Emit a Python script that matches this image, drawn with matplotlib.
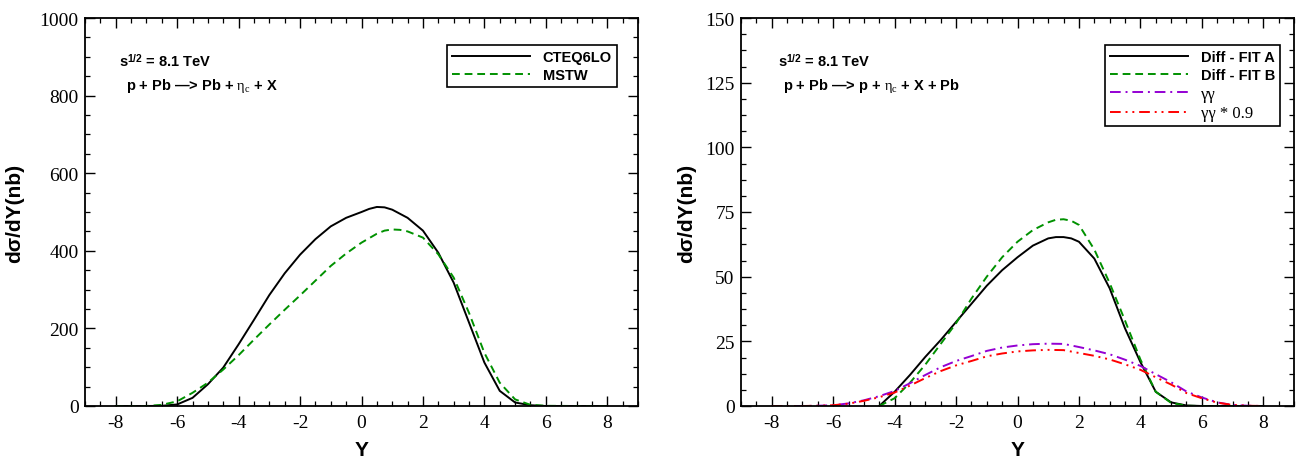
import matplotlib
matplotlib.use("Agg")
import matplotlib.pyplot as plt
from matplotlib.ticker import MultipleLocator

plt.rcParams['mathtext.fontset'] = 'custom'
plt.rcParams['mathtext.rm'] = 'Liberation Sans:bold'
plt.rcParams['mathtext.bf'] = 'Liberation Sans:bold'
plt.rcParams['mathtext.it'] = 'Liberation Serif'
plt.rcParams['axes.unicode_minus'] = False

# ---------------- data: left panel ----------------
y_cteq = [-8, -7, -6.5, -6, -5.5, -5, -4.5, -4, -3.5, -3, -2.5, -2, -1.5, -1, -0.5,
          0, 0.25, 0.5, 0.75, 1, 1.5, 2, 2.5, 3, 3.5, 4, 4.5, 5, 5.5, 6, 7, 8]
v_cteq = [0, 0, 0.5, 4, 21, 56, 99, 159, 222, 286, 342, 390, 430, 463, 485,
          500, 508, 513, 512, 506, 485, 452, 395, 318, 215, 112, 39, 9, 2, 0, 0, 0]

y_mstw = [-8, -7, -6.5, -6, -5.5, -5, -4.5, -4, -3.5, -3, -2.5, -2, -1.5, -1, -0.5,
          0, 0.5, 0.75, 1, 1.25, 1.5, 2, 2.5, 3, 3.5, 4, 4.5, 5, 5.5, 6, 7, 8]
v_mstw = [0, 0, 3, 12, 34, 60, 94, 131, 171, 210, 248, 285, 323, 361, 393,
          421, 444, 452, 455, 454, 450, 434, 391, 331, 240, 137, 60, 17, 3, 0.5, 0, 0]

# ---------------- data: right panel ----------------
y_fit = [-4.5, -4, -3.5, -3, -2.5, -2, -1.5, -1, -0.5, 0, 0.5, 1, 1.25, 1.5, 1.75, 2, 2.5,
         3, 3.5, 4, 4.5, 5, 5.5, 6, 7, 8]
v_fitA = [0, 5.5, 12, 19, 25.5, 32.5, 39.5, 46.5, 52.5, 57.5, 62, 64.8, 65.3, 65.3, 64.8, 63.5, 57,
          45.5, 30, 17, 5.5, 1.4, 0.2, 0, 0, 0]
v_fitB = [0, 3, 9, 16, 24, 32, 41.5, 50, 57.5, 63.5, 68, 71, 72.0, 72.2, 71.6, 70, 60.5,
          47.5, 33, 18, 5.5, 1.2, 0.1, 0, 0, 0]

y_gg = [-8, -7, -6.5, -6, -5.5, -5, -4.5, -4, -3.5, -3, -2.5, -2, -1.5, -1, -0.5,
        0, 0.5, 1, 1.5, 2, 2.5, 3, 3.5, 4, 4.5, 5, 5.5, 6, 6.5, 7, 7.5, 8]
v_gg = [0, 0, 0.1, 0.3, 1.0, 2.2, 3.8, 5.8, 8.8, 12, 15, 17.4, 19.3, 21.3, 22.6,
        23.4, 23.9, 24.1, 24.0, 22.8, 21.5, 20.0, 17.9, 15.5, 12.3, 9.2, 5.6, 3.3, 1.4, 0.4, 0.1, 0]
v_gg09 = [0, 0, 0.1, 0.3, 0.9, 2.0, 3.4, 5.2, 7.9, 10.8, 13.5, 15.7, 17.4, 19.2, 20.3,
          21.1, 21.5, 21.7, 21.6, 20.5, 19.4, 18.0, 16.1, 14.0, 11.1, 8.3, 5.0, 3.0, 1.3, 0.4, 0.1, 0]

x_ticks = [-8, -6, -4, -2, 0, 2, 4, 6, 8]
left_yticks = [0, 200, 400, 600, 800, 1000]
right_yticks = [0, 25, 50, 75, 100, 125, 150]

GREEN = '#009100'
PURPLE = '#9400d3'
RED = '#ff0000'
LW = 1.4
SANS = 'Liberation Sans'
SERIF = 'Liberation Serif'

fig = plt.figure(figsize=(13.08, 4.6), dpi=100)
axL = fig.add_axes([85/1308, 53/460, 553/1308, 388/460])
axR = fig.add_axes([741/1308, 53/460, 553/1308, 388/460])


def style(ax, yticks, ymax, yminor, ylabelpad):
    ax.set_xlim(-9, 9)
    ax.set_ylim(0, ymax)
    ax.set_xticks(x_ticks)
    ax.set_yticks(yticks)
    ax.xaxis.set_minor_locator(MultipleLocator(0.5))
    ax.yaxis.set_minor_locator(MultipleLocator(yminor))
    ax.tick_params(which='both', direction='in', top=True, right=True)
    ax.tick_params(which='major', length=7, width=1.0)
    ax.tick_params(which='minor', length=3.5, width=0.9)
    ax.tick_params(axis='x', which='major', pad=6)
    ax.tick_params(axis='y', which='major', pad=4.5)
    for lab in ax.get_xticklabels() + ax.get_yticklabels():
        lab.set_fontfamily(SERIF)
        lab.set_fontsize(14)
    for s in ax.spines.values():
        s.set_linewidth(1.3)
    ax.set_xlabel('Y', fontfamily=SANS, fontweight='bold', fontsize=15, labelpad=6)
    ax.set_ylabel('dσ/dY(nb)', fontfamily=SANS, fontweight='bold', fontsize=15,
                  labelpad=ylabelpad)


# ---------- left panel ----------
axL.plot(y_cteq, v_cteq, color='black', lw=LW, label='CTEQ6LO')
axL.plot(y_mstw, v_mstw, color=GREEN, lw=LW, linestyle=(0, (4, 2.5)), label='MSTW')
style(axL, left_yticks, 1000, 50, 11)
legL = axL.legend(loc='upper right', bbox_to_anchor=(0.962, 0.93), borderaxespad=0,
                  fancybox=False, framealpha=1, edgecolor='black', handlelength=5.3,
                  handletextpad=0.9, borderpad=0.35, labelspacing=0.25,
                  prop={'family': SANS, 'weight': 'bold', 'size': 10.5})
legL.get_frame().set_linewidth(1.2)
axL.text(0.0615, 0.874, 's$^{1/2}$ = 8.1 TeV', transform=axL.transAxes,
         fontfamily=SANS, fontweight='bold', fontsize=10.5, va='baseline')
axL.text(0.0736, 0.817, r'p + Pb —> Pb + $\eta_{c}$ + X', transform=axL.transAxes,
         fontfamily=SANS, fontweight='bold', fontsize=10.5, va='baseline')

# ---------- right panel ----------
axR.plot(y_fit, v_fitA, color='black', lw=LW, label='Diff - FIT A')
axR.plot(y_fit, v_fitB, color=GREEN, lw=LW, linestyle=(0, (4, 2.5)), label='Diff - FIT B')
axR.plot(y_gg, v_gg, color=PURPLE, lw=LW, linestyle=(0, (5.5, 2.5, 1, 2.5)), label='γγ')
axR.plot(y_gg, v_gg09, color=RED, lw=LW, linestyle=(0, (5.5, 2.5, 1, 2.5, 1, 2.5)),
         label='γγ * 0.9')
style(axR, right_yticks, 150, 6.25, 7)
legR = axR.legend(loc='upper right', bbox_to_anchor=(0.975, 0.93), borderaxespad=0,
                  fancybox=False, framealpha=1, edgecolor='black', handlelength=5.3,
                  handletextpad=0.9, borderpad=0.35, labelspacing=0.25,
                  prop={'family': SANS, 'weight': 'bold', 'size': 10.5})
legR.get_frame().set_linewidth(1.2)
for t in legR.get_texts()[2:]:
    t.set_fontfamily(SERIF)
    t.set_fontweight('normal')
    t.set_fontsize(12)
axR.text(0.0666, 0.874, 's$^{1/2}$ = 8.1 TeV', transform=axR.transAxes,
         fontfamily=SANS, fontweight='bold', fontsize=10.5, va='baseline')
axR.text(0.076, 0.817, r'p + Pb —> p + $\eta_{c}$ + X + Pb', transform=axR.transAxes,
         fontfamily=SANS, fontweight='bold', fontsize=10.5, va='baseline')

fig.savefig('out.png', dpi=100)
